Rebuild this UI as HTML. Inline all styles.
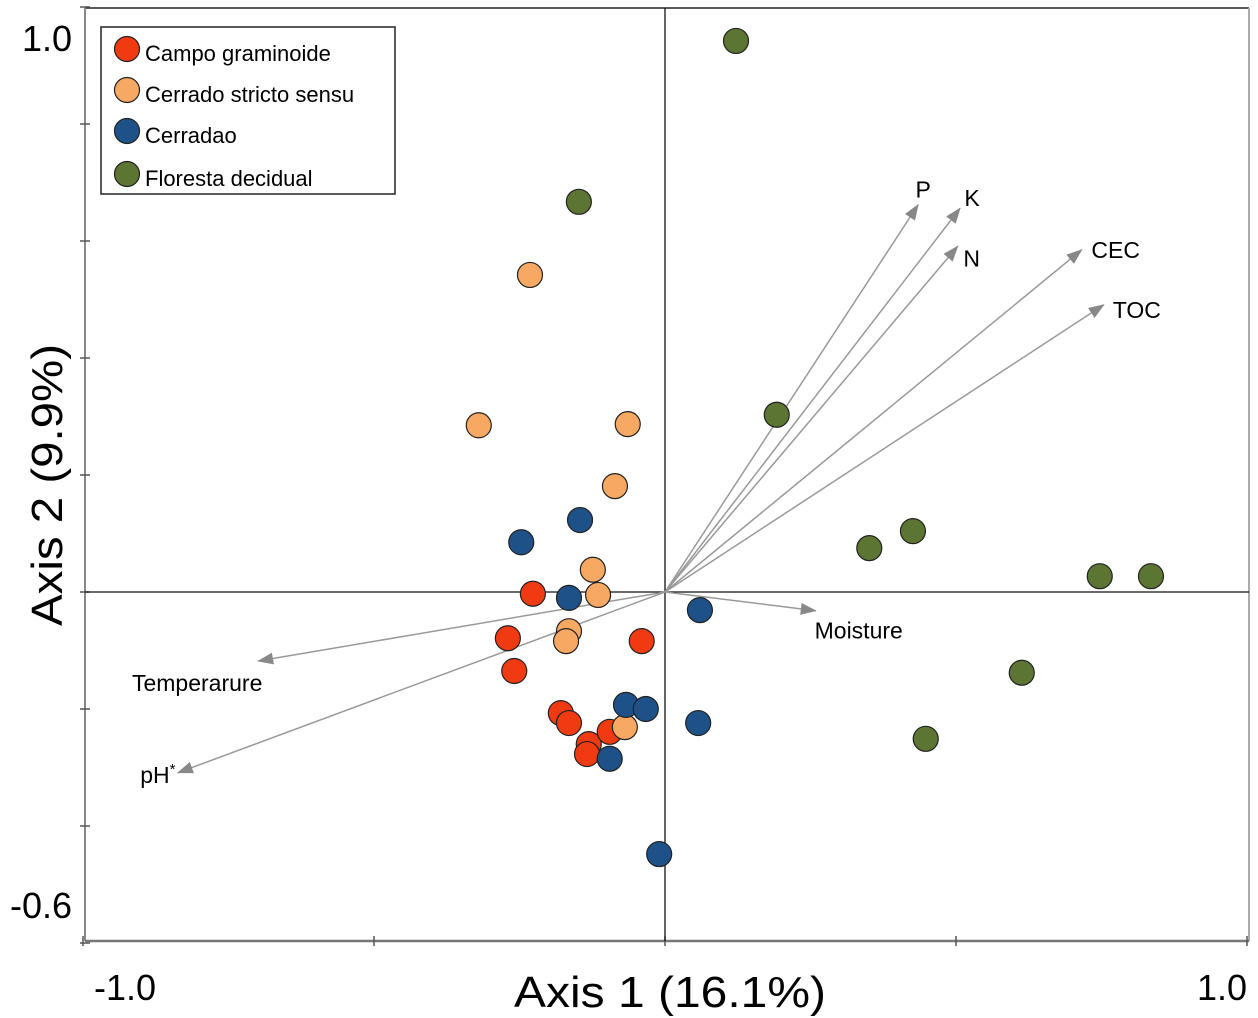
<!DOCTYPE html>
<html><head><meta charset="utf-8"><style>
body{margin:0;background:#fff}
svg{display:block;font-family:"Liberation Sans",Arial,sans-serif}
</style></head><body>
<svg id="chart" width="1258" height="1018" viewBox="0 0 1258 1018">
<defs><marker id="ah" markerWidth="16" markerHeight="12" refX="15" refY="6" orient="auto" markerUnits="userSpaceOnUse" viewBox="0 0 16 12"><path d="M0,0 L16,6 L0,12 z" fill="#888"/></marker></defs>
<g id="frame">
<line x1="85" y1="8" x2="1249" y2="8" stroke="#222" stroke-width="1.5"/>
<line x1="1249" y1="8" x2="1249" y2="941" stroke="#aaa" stroke-width="2"/>
<line x1="85" y1="8" x2="85" y2="941" stroke="#888" stroke-width="2"/>
<line x1="85" y1="941" x2="1249" y2="941" stroke="#777" stroke-width="2.5"/>
</g>
<g id="ticks"></g>
<g id="zero"></g>
<g id="arrows"></g>
<g id="points"></g>
<text x="72" y="51" font-size="36" text-anchor="end">1.0</text>
<text x="72" y="918" font-size="36" text-anchor="end">-0.6</text>
<text x="125" y="1000" font-size="36" text-anchor="middle">-1.0</text>
<text x="1222" y="1000" font-size="36" text-anchor="middle">1.0</text>
<text x="670" y="1007" font-size="44" text-anchor="middle" textLength="312" lengthAdjust="spacingAndGlyphs">Axis 1 (16.1%)</text>
<text transform="translate(62,485) rotate(-90)" font-size="44" text-anchor="middle" textLength="282" lengthAdjust="spacingAndGlyphs">Axis 2 (9.9%)</text>
<g>
<rect x="101" y="27" width="294" height="167" fill="#fff" stroke="#222" stroke-width="1.5"/>
<g id="legendItems"></g>
</g>
</svg>
<script>
const groups = ["Campo graminoide","Cerrado stricto sensu","Cerradao","Floresta decidual"];
const colors = ["#f03a12","#f7a862","#1f5189","#5c7533"];
const redX = [-0.227,-0.270,-0.259,-0.179,-0.165,-0.131,-0.134,-0.095,-0.040];
const redY = [-0.003,-0.079,-0.135,-0.207,-0.224,-0.260,-0.277,-0.239,-0.084];
const orangeX = [-0.232,-0.320,-0.064,-0.086,-0.124,-0.115,-0.165,-0.170,-0.069];
const orangeY = [0.542,0.285,0.287,0.181,0.038,-0.005,-0.067,-0.084,-0.231];
const blueX = [-0.247,-0.146,-0.165,0.060,-0.067,-0.033,-0.095,0.057,-0.010];
const blueY = [0.085,0.123,-0.010,-0.031,-0.193,-0.200,-0.285,-0.224,-0.448];
const greenX = [0.122,-0.148,0.192,0.351,0.426,0.747,0.835,0.613,0.448];
const greenY = [0.942,0.667,0.303,0.075,0.104,0.027,0.027,-0.138,-0.251];
const vecNames = ["P","K","N","CEC","TOC","Moisture","Temperarure","pH"];
const vecX = [0.435,0.507,0.503,0.716,0.754,0.259,-0.699,-0.837];
const vecY = [0.662,0.656,0.591,0.585,0.491,-0.032,-0.118,-0.309];
const xTicks = [-1,-0.5,0,0.5,1];
const yTicks = [1,0.8,0.6,0.4,0.2,0,-0.2,-0.4,-0.6];

const NS="http://www.w3.org/2000/svg";
const X = v => 665 + v*582;
const Y = v => 592 - v*585;
function mk(tag, attrs, parent){const e=document.createElementNS(NS,tag);for(const k in attrs)e.setAttribute(k,attrs[k]);parent.appendChild(e);return e;}

const tg=document.getElementById('ticks');
xTicks.forEach(t=>{const l=mk('line',{x1:X(t),x2:X(t),y1:936,y2:946,stroke:'#555','stroke-width':1.5},tg);

});
yTicks.forEach(t=>{const l=mk('line',{x1:80,x2:90,y1:Y(t),y2:Y(t),stroke:'#555','stroke-width':1.5},tg);

});

const zg=document.getElementById('zero');
const zl1=mk('line',{x1:X(0),x2:X(0),y1:8,y2:941,stroke:'#111','stroke-width':1.3},zg);


const zl2=mk('line',{x1:85,x2:1249,y1:Y(0),y2:Y(0),stroke:'#111','stroke-width':1.3},zg);



const ag=document.getElementById('arrows');
const labOff=[[5,-15],[12,-10],[14,12],[34,0],[33,5],[43,20],[-61,22],[-20,2]];
vecNames.forEach((n,i)=>{
  const l=mk('line',{x1:X(0),y1:Y(0),x2:X(vecX[i]),y2:Y(vecY[i]),stroke:'#999','stroke-width':1.5,'marker-end':'url(#ah)'},ag);
  
  
  const t=mk('text',{x:X(vecX[i])+labOff[i][0],y:Y(vecY[i])+labOff[i][1]+8,'font-size':23,'text-anchor':'middle'},ag);
  t.textContent=n;
  if(n==='pH'){const s=mk('tspan',{dy:-9,'font-size':15},t);s.textContent='*';}
  
  
});

const pg=document.getElementById('points');
const series=[[redX,redY],[orangeX,orangeY],[blueX,blueY],[greenX,greenY]];
series.forEach((s,gi)=>{s[0].forEach((x,i)=>{
  const c=mk('circle',{cx:X(x),cy:Y(s[1][i]),r:12.5,fill:colors[gi],stroke:'#222','stroke-width':1.2},pg);
  
  
});});

const lg=document.getElementById('legendItems');
const ly=[49,90,131,174];
groups.forEach((g,i)=>{
  const c=mk('circle',{cx:127,cy:ly[i],r:12.5,fill:colors[i],stroke:'#222','stroke-width':1.2},lg);
  
  
  const t=mk('text',{x:145,y:ly[i]+12,'font-size':22},lg);
  t.textContent=g;
  
  
});
</script>
</body></html>
